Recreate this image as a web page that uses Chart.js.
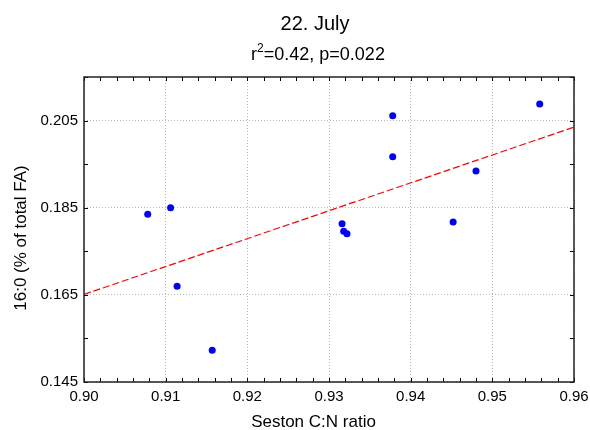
<!DOCTYPE html>
<html>
<head>
<meta charset="utf-8">
<script src="https://cdn.jsdelivr.net/npm/chart.js@4/dist/chart.umd.min.js"></script>
<style>
html,body{margin:0;padding:0;background:#fff;}
#wrap{width:590px;height:430px;position:relative;}
</style>
</head>
<body>
<div id="wrap"><canvas id="c" width="590" height="430"></canvas></div>
<script>
// ---- data ----
const sestonCN = [0.9078, 0.9106, 0.9114, 0.9157, 0.9316, 0.9318, 0.9322, 0.9378, 0.9378, 0.9452, 0.9480, 0.9558];
const fa160    = [0.1835, 0.1850, 0.1670, 0.1523, 0.1813, 0.1796, 0.1790, 0.2061, 0.1967, 0.1817, 0.1934, 0.2088];
const fitX = [0.90, 0.96];
const fitY = [0.1651, 0.2035];
const xTickLabels = [0.90, 0.91, 0.92, 0.93, 0.94, 0.95, 0.96];
const yTickLabels = [0.145, 0.165, 0.185, 0.205];
const titleText = "22. July";
const subR = "r", subSup = "2", subRest = "=0.42, p=0.022";
const xTitle = "Seston C:N ratio";
const yTitle = "16:0 (% of total FA)";

const FONT = '"Liberation Sans", Arial, Helvetica, sans-serif';

const pts = sestonCN.map((x, i) => ({x: x, y: fa160[i]}));
const fit = fitX.map((x, i) => ({x: x, y: fitY[i]}));

const decor = {
  id: 'decor',
  afterDraw(chart) {
    const ctx = chart.ctx;
    const a = chart.chartArea;
    const xs = chart.scales.x, ys = chart.scales.y;
    ctx.save();
    // minor ticks (inward) on all sides
    ctx.strokeStyle = '#000';
    ctx.lineWidth = 1;
    ctx.beginPath();
    for (let k = 0; k <= 30; k++) {
      const v = 0.90 + k * 0.002;
      const px = Math.round(xs.getPixelForValue(v)) + 0.5;
      ctx.moveTo(px, a.bottom); ctx.lineTo(px, a.bottom - 4);
      ctx.moveTo(px, a.top); ctx.lineTo(px, a.top + 4);
    }
    for (let k = 0; k <= 7; k++) {
      const v = 0.145 + k * 0.01;
      const py = Math.round(ys.getPixelForValue(v)) + 0.5;
      ctx.moveTo(a.left, py); ctx.lineTo(a.left + 4, py);
      ctx.moveTo(a.right, py); ctx.lineTo(a.right - 4, py);
    }
    ctx.stroke();
    // frame
    ctx.lineWidth = 1.5;
    ctx.strokeStyle = '#222';
    ctx.strokeRect(a.left, a.top, a.right - a.left, a.bottom - a.top);
    // titles
    ctx.fillStyle = '#000';
    ctx.textBaseline = 'alphabetic';
    ctx.textAlign = 'center';
    ctx.font = '20px ' + FONT;
    ctx.fillText(titleText, 315, 29.5);
    // subtitle with superscript
    ctx.textAlign = 'left';
    ctx.font = '18px ' + FONT;
    const wr = ctx.measureText(subR).width;
    const wrest = ctx.measureText(subRest).width;
    ctx.font = '12px ' + FONT;
    const wsup = ctx.measureText(subSup).width;
    const total = wr + wsup + wrest;
    let sx = 318 - total / 2;
    const base = 59.5;
    ctx.font = '18px ' + FONT;
    ctx.fillText(subR, sx, base); sx += wr;
    ctx.font = '12px ' + FONT;
    ctx.fillText(subSup, sx, base - 8); sx += wsup;
    ctx.font = '18px ' + FONT;
    ctx.fillText(subRest, sx, base);
    // axis titles
    ctx.textAlign = 'center';
    ctx.textBaseline = 'alphabetic';
    ctx.font = '17px ' + FONT;
    ctx.fillText(xTitle, 313.5, 426.5);
    ctx.textBaseline = 'middle';
    ctx.translate(21, 238);
    ctx.rotate(-Math.PI / 2);
    ctx.fillText(yTitle, 0, 0);
    ctx.restore();
  }
};

new Chart(document.getElementById('c'), {
  type: 'scatter',
  data: {
    datasets: [
      {
        type: 'line',
        data: fit,
        borderColor: '#ff0000',
        borderWidth: 1.2,
        borderDash: [7, 3],
        pointRadius: 0,
        fill: false,
        tension: 0,
        order: 2
      },
      {
        data: pts,
        backgroundColor: '#0000ff',
        borderColor: '#0000ff',
        borderWidth: 0,
        pointRadius: 3.5,
        order: 1
      }
    ]
  },
  options: {
    responsive: false,
    animation: false,
    layout: {padding: {left: 0, top: 77, right: 16, bottom: 0}},
    plugins: {legend: {display: false}, tooltip: {enabled: false}, title: {display: false}},
    scales: {
      x: {
        type: 'linear', min: 0.90, max: 0.96,
        afterBuildTicks(s) { s.ticks = xTickLabels.map(v => ({value: v})); },
        afterFit(s) { s.height = 48; s.paddingLeft = 0; s.paddingRight = 0; },
        ticks: {
          font: {family: FONT, size: 15}, color: '#000', padding: 6,
          maxRotation: 0, autoSkip: false,
          callback: v => Number(v).toFixed(2)
        },
        grid: {color: '#b8b8b8', lineWidth: 1, drawTicks: false},
        border: {display: false, dash: [1, 2]}
      },
      y: {
        type: 'linear', min: 0.145, max: 0.215,
        afterBuildTicks(s) { s.ticks = yTickLabels.map(v => ({value: v})); },
        afterFit(s) { s.width = 84; s.paddingTop = 0; s.paddingBottom = 0; },
        ticks: {
          font: {family: FONT, size: 15}, color: '#000', padding: 6,
          autoSkip: false,
          callback: v => Number(v).toFixed(3)
        },
        grid: {color: '#b8b8b8', lineWidth: 1, drawTicks: false},
        border: {display: false, dash: [1, 2]}
      }
    }
  },
  plugins: [decor]
});
</script>
</body>
</html>
